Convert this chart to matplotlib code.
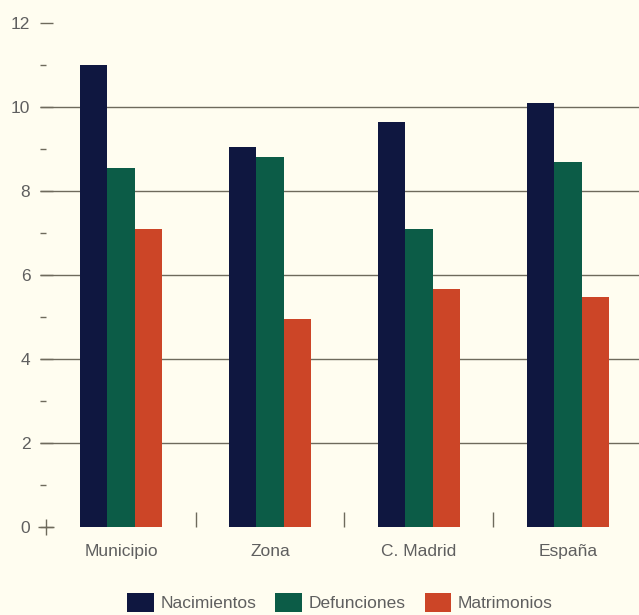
import matplotlib
matplotlib.use("Agg")
import matplotlib.pyplot as plt
import numpy as np
from matplotlib.patches import Patch
from matplotlib.ticker import MultipleLocator, FixedLocator

# ---- datos ----
categorias = ["Municipio", "Zona", "C. Madrid", "España"]
nacimientos = [11.0, 9.05, 9.65, 10.1]
defunciones = [8.55, 8.8, 7.1, 8.7]
matrimonios = [7.1, 4.95, 5.67, 5.48]
series = ["Nacimientos", "Defunciones", "Matrimonios"]

# ---- colores ----
C_NAC = "#0f1740"
C_DEF = "#0c5c47"
C_MAT = "#cc4527"
FONDO = "#fffdf0"
GRID = "#6e6a5c"
TXT = "#5f5f5f"

plt.rcParams["font.family"] = ["Liberation Sans", "DejaVu Sans"]

fig = plt.figure(figsize=(6.39, 6.15), dpi=100, facecolor=FONDO)
ax = fig.add_axes([40 / 639, 88 / 615, 599 / 639, 504 / 615])
ax.set_facecolor(FONDO)

x = np.arange(len(categorias))
w = 0.185
for off, vals, col, lab in zip([-w, 0, w], [nacimientos, defunciones, matrimonios],
                               [C_NAC, C_DEF, C_MAT], series):
    ax.bar(x + off, vals, width=w, color=col, label=lab, zorder=2, linewidth=0)

ax.set_xlim(-0.544, 3.477)
ax.set_ylim(0, 12)

# lineas horizontales (detras de las barras)
ax.hlines([2, 4, 6, 8, 10], -0.544, 3.477, color=GRID, linewidth=1.0, zorder=1)

for s in ax.spines.values():
    s.set_visible(False)

ax.yaxis.set_major_locator(MultipleLocator(2))
ax.yaxis.set_minor_locator(FixedLocator([1, 3, 5, 7, 9, 11]))
ax.tick_params(axis="y", which="major", direction="in", length=9, width=1.0,
               color=GRID, pad=7, labelsize=12.5, labelcolor=TXT)
ax.tick_params(axis="y", which="minor", direction="in", length=4, width=1.0,
               color=GRID)

ax.set_xticks(x)
ax.set_xticklabels(categorias)
ax.xaxis.set_minor_locator(FixedLocator([0.5, 1.5, 2.5]))
ax.tick_params(axis="x", which="major", length=0, pad=12, labelsize=12.5,
               labelcolor=TXT)
ax.tick_params(axis="x", which="minor", direction="in", length=11, width=1.0,
               color=GRID)

# cruz en el origen
ax.plot([0.01], [0], marker="+", markersize=11, color=GRID, mew=1.0,
        transform=ax.get_yaxis_transform(), clip_on=False, zorder=3)

handles = [Patch(facecolor=c, label=l) for c, l in zip([C_NAC, C_DEF, C_MAT], series)]
leg = fig.legend(handles=handles, loc="center", bbox_to_anchor=(0.532, 0.021),
                 ncol=3, frameon=False, fontsize=12.5, handlelength=1.55,
                 handleheight=1.3, handletextpad=0.35, columnspacing=1.1)
for t in leg.get_texts():
    t.set_color(TXT)

fig.savefig("out.png", dpi=100, facecolor=FONDO)
